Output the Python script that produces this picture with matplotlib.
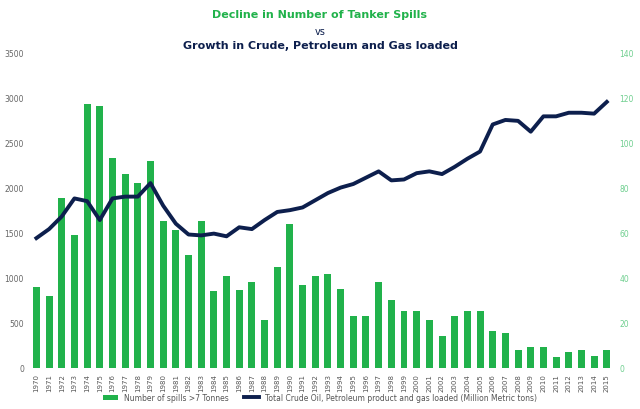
import numpy as np
import matplotlib.pyplot as plt

years = list(range(1970, 2016))
spills = [900, 800, 1880, 1480, 2930, 2900, 2330, 2150, 2050, 2300,
          1630, 1530, 1250, 1630, 850, 1020, 860, 950, 530, 1120,
          1600, 920, 1020, 1040, 880, 580, 580, 950, 750, 630,
          630, 530, 360, 580, 630, 630, 410, 390, 200, 230,
          230, 120, 180, 200, 130, 200]
loaded = [1440, 1540, 1680, 1880, 1850, 1640, 1880, 1900, 1900, 2050,
          1800, 1600, 1480, 1470, 1490, 1460, 1560, 1540, 1640, 1730,
          1750, 1780, 1860, 1940, 2000, 2040, 2110, 2180, 2080, 2090,
          2160, 2180, 2150, 2230, 2320, 2400, 2700, 2750, 2740, 2620,
          2790, 2790, 2830, 2830, 2820, 2950]
loaded_r = [v / 25 for v in loaded]

green = "#21b24b"
navy = "#0d1f4d"

fig = plt.figure(figsize=(6.4, 4.1), dpi=100)
ax = fig.add_axes([0.045, 0.1, 0.915, 0.77])
ax2 = ax.twinx()
x = np.arange(len(years))
ax.bar(x, spills, width=0.55, color=green, label="Number of spills >7 Tonnes")
ax2.plot(x, loaded_r, color=navy, lw=2.8,
         label="Total Crude Oil, Petroleum product and gas loaded (Million Metric tons)")
ax.set_ylim(0, 3500)
ax2.set_ylim(0, 140)
ax.set_yticks(range(0, 3501, 500))
ax2.set_yticks(range(0, 141, 20))
ax.set_xlim(-0.6, len(years) - 0.4)
ax.set_xticks(x)
ax.set_xticklabels([str(y) for y in years], rotation=90, fontsize=5, color="#555555")
ax.tick_params(axis="y", labelsize=5.5, colors="#666666", length=0)
ax2.tick_params(axis="y", labelsize=5.5, colors="#6fcf8f", length=0)
ax.tick_params(axis="x", length=0)
for a in (ax, ax2):
    for s in a.spines.values():
        s.set_visible(False)
h1, l1 = ax.get_legend_handles_labels()
h2, l2 = ax2.get_legend_handles_labels()
fig.legend(h1 + h2, l1 + l2, loc="lower center", ncol=2, frameon=False,
           fontsize=5.5, bbox_to_anchor=(0.5, 0.0), labelcolor="#555555")
fig.text(0.5, 0.975, "Decline in Number of Tanker Spills", ha="center", va="top",
         fontsize=8, fontweight="bold", color=green)
fig.text(0.5, 0.935, "vs", ha="center", va="top", fontsize=7, color=navy)
fig.text(0.5, 0.9, "Growth in Crude, Petroleum and Gas loaded", ha="center", va="top",
         fontsize=8, fontweight="bold", color=navy)
fig.savefig("out.png")
